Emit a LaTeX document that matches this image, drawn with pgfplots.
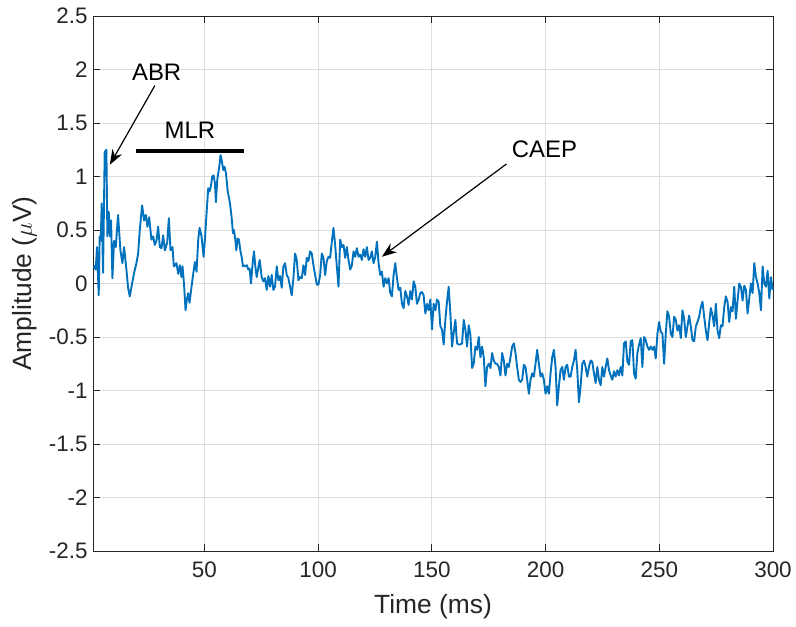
\documentclass[border=0pt]{standalone}
\usepackage{fontspec}
\setmainfont{Liberation Sans}
\usepackage{pgfplots}
\pgfplotsset{compat=1.18}
\usetikzlibrary{arrows.meta}
\definecolor{mblue}{HTML}{0072BD}
\definecolor{axgray}{HTML}{262626}
\definecolor{gridgray}{HTML}{DEDEDE}
\begin{document}
\begin{tikzpicture}
\begin{axis}[
  scale only axis,
  width=680bp, height=535bp,
  xmin=1, xmax=300, ymin=-2.5, ymax=2.5,
  xtick={50,100,150,200,250,300},
  ytick={-2.5,-2,-1.5,-1,-0.5,0,0.5,1,1.5,2,2.5},
  /pgf/number format/assume math mode=true,
  tick label style={font=\fontsize{22.5}{24}\selectfont, text=axgray},
  xticklabel style={yshift=-7bp},
  yticklabel style={xshift=-2bp},
  label style={font=\fontsize{26.5}{28}\selectfont, text=axgray},
  xlabel={Time (ms)},
  ylabel={Amplitude ($\mu$V)},
  xlabel style={at={(axis description cs:0.5,-0.1047)}, anchor=center},
  ylabel style={at={(axis description cs:-0.1,0.5)}, anchor=center},
  axis line style={axgray, line width=0.9bp},
  tick style={axgray, line width=0.8bp},
  tick align=inside,
  major tick length=7bp,
  xtick pos=both, ytick pos=both,
  grid=major,
  major grid style={gridgray, line width=0.8bp},
  clip=false,
  every axis plot/.append style={line join=round},
]
\addplot[mblue, line width=1.9bp, mark=none] coordinates {
(1.31,0.17) (2.19,0.13) (2.78,0.34) (3.51,-0.11) (3.95,0.44) (4.39,0.40) (4.83,0.75) (5.42,0.10)
(6.15,1.23) (6.89,1.25) (7.33,0.44) (7.92,0.67) (8.50,0.44) (8.94,0.59) (9.53,0.05) (10.27,0.40)
(11.00,0.34) (12.03,0.64) (13.06,0.31) (13.94,0.19) (14.67,0.34) (15.70,0.13) (16.43,-0.04) (17.17,-0.12)
(18.19,0.00) (19.08,0.10) (20.10,0.19) (20.84,0.28) (21.57,0.50) (22.60,0.73) (23.48,0.59) (24.21,0.64)
(24.95,0.53) (25.68,0.62) (26.71,0.41) (27.45,0.44) (28.18,0.36) (28.91,0.40) (29.65,0.53) (30.38,0.34)
(31.12,0.33) (31.85,0.45) (32.59,0.31) (33.61,0.38) (34.35,0.61) (35.08,0.31) (35.96,0.34) (36.55,0.16)
(36.99,0.17) (37.72,0.19) (38.46,0.09) (39.19,0.17) (39.93,0.06) (40.37,0.16) (41.10,-0.03) (41.69,-0.25)
(42.28,-0.15) (42.86,-0.09) (43.45,-0.18) (44.33,-0.03) (45.07,0.09) (45.80,0.20) (46.53,0.11) (47.27,0.41)
(47.86,0.52) (48.74,0.44) (49.62,0.25) (50.21,0.41) (50.94,0.66) (51.67,0.89) (52.26,0.86) (52.85,0.91)
(53.43,1.00) (54.02,1.01) (54.61,0.94) (55.05,0.76) (55.64,0.97) (56.52,1.09) (57.11,1.20) (57.69,1.14)
(58.28,1.06) (58.87,1.09) (59.46,1.03) (60.19,0.87) (61.22,0.75) (61.95,0.62) (62.54,0.47) (62.98,0.50)
(63.57,0.41) (64.01,0.31) (64.60,0.42) (65.18,0.41) (65.77,0.31) (66.36,0.25) (66.95,0.16) (67.53,0.17)
(68.12,0.16) (68.71,0.17) (69.29,0.13) (69.88,0.14) (70.47,0.00) (71.20,0.19) (71.79,0.30) (72.38,0.16)
(72.97,0.06) (73.55,0.13) (74.29,0.22)
(75.17,0.06) (75.91,0.02) (76.64,0.05) (77.38,-0.06) (78.11,0.07) (78.85,-0.03) (79.58,0.08) (80.31,-0.06)
(81.05,-0.03) (81.78,0.16) (82.52,0.03) (83.25,0.07) (83.98,-0.04) (84.72,0.16) (85.45,0.19) (86.19,0.08)
(86.92,0.05) (87.66,-0.03) (88.39,-0.11) (89.12,0.05) (89.86,0.28) (90.59,0.22) (91.33,0.03) (92.06,0.06)
(92.80,0.05) (93.53,0.17) (94.26,0.08) (95.00,0.24) (95.73,0.21) (96.47,0.30) (97.20,0.28) (97.93,0.17)
(98.67,0.08) (99.40,-0.01) (100.14,-0.01) (100.87,0.08) (101.61,0.28) (102.34,0.24) (103.07,0.08) (103.81,0.21)
(104.54,0.25) (105.28,0.24) (106.01,0.39) (106.74,0.52) (107.48,0.36) (108.21,0.16) (108.95,-0.03) (109.68,0.41)
(110.42,0.34) (111.15,0.36) (111.88,0.24) (112.62,0.34) (113.35,0.22) (114.09,0.13) (114.82,0.17) (115.56,0.30)
(116.29,0.25) (117.02,0.33) (117.76,0.25) (118.49,0.27) (119.23,0.22) (119.96,0.32) (120.70,0.25) (121.43,0.34)
(122.16,0.22) (122.90,0.24) (123.63,0.30) (124.37,0.19) (125.10,0.25) (125.84,0.39) (126.57,0.19) (127.30,0.08)
(128.04,0.11) (128.77,-0.03) (129.51,0.05) (130.24,0.00) (130.97,0.05) (131.71,-0.09) (132.44,-0.12) (133.18,0.08)
(133.91,0.19) (134.65,0.05) (135.38,-0.06) (136.11,-0.04) (136.85,-0.19) (137.58,-0.23) (138.32,-0.07) (139.05,-0.12)
(139.78,-0.20) (140.52,-0.07) (141.25,-0.15) (141.99,0.02) (142.72,-0.03) (143.45,-0.19) (144.19,-0.15)
(144.92,-0.09) (145.65,-0.08) (146.39,-0.11) (147.12,-0.28) (147.86,-0.19) (148.59,-0.25) (149.33,-0.15) (150.06,-0.43)
(150.79,-0.19) (151.53,-0.25) (152.26,-0.15) (153.00,-0.17) (153.73,-0.40) (154.46,-0.43) (155.20,-0.57) (155.93,-0.34)
(156.67,-0.17) (157.40,-0.03) (158.14,-0.28) (158.87,-0.59) (159.60,-0.46) (160.34,-0.34) (161.07,-0.56) (161.81,-0.57)
(162.54,-0.57) (163.28,-0.56) (164.01,-0.34) (164.74,-0.43) (165.48,-0.59) (166.21,-0.39) (166.95,-0.48) (167.68,-0.79)
(168.41,-0.75) (169.15,-0.59) (169.88,-0.62) (170.62,-0.50) (171.35,-0.69) (172.09,-0.59) (172.82,-0.69) (173.55,-0.96)
(174.29,-0.78) (175.02,-0.75) (175.76,-0.79) (176.49,-0.65) (177.22,-0.72) (177.96,-0.75) (178.69,-0.75) (179.43,-0.78)
(180.16,-0.86) (180.90,-0.65) (181.63,-0.72) (182.36,-0.86) (183.10,-0.75) (183.83,-0.78) (184.57,-0.69) (185.30,-0.59)
(186.04,-0.56) (186.77,-0.65) (187.50,-0.78) (188.24,-0.90) (188.97,-0.92) (189.71,-0.90) (190.44,-0.76) (191.17,-0.78)
(191.91,-0.90) (192.64,-1.03) (193.38,-0.90) (194.11,-0.84) (194.85,-0.87) (195.58,-0.75) (196.31,-0.62) (197.05,-0.75)
(197.78,-0.87) (198.52,-0.84) (199.25,-0.90) (199.99,-1.03) (200.72,-0.96) (201.45,-1.03) (202.19,-0.84) (202.92,-0.69)
(203.66,-0.62) (204.39,-0.78) (205.12,-1.14) (205.86,-0.96) (206.59,-0.81) (207.33,-0.78) (208.06,-0.90) (208.80,-0.78)
(209.53,-0.76) (210.26,-0.87) (211.00,-0.87) (211.73,-0.78) (212.47,-0.72) (213.20,-0.62) (213.94,-0.81) (214.67,-1.11)
(215.40,-0.96) (216.14,-0.75) (216.87,-0.72) (217.61,-0.78) (218.34,-0.87) (219.08,-0.78) (219.81,-0.72) (220.54,-0.73)
(221.28,-0.84) (222.01,-0.93) (222.75,-0.78) (223.48,-0.90)
(224.22,-0.95) (224.95,-0.78) (225.68,-0.87) (226.42,-0.78) (227.15,-0.70) (227.89,-0.81) (228.62,-0.86) (229.35,-0.90)
(230.09,-0.82) (230.82,-0.87) (231.56,-0.81) (232.29,-0.86) (233.03,-0.78) (233.76,-0.86) (234.49,-0.56) (235.23,-0.54)
(235.96,-0.73) (236.70,-0.76) (237.43,-0.54) (238.17,-0.53) (238.90,-0.84) (239.63,-0.89) (240.37,-0.65) (241.10,-0.57)
(241.84,-0.51) (242.57,-0.78) (243.30,-0.50) (244.04,-0.53) (244.77,-0.59) (245.51,-0.62) (246.24,-0.59) (246.98,-0.62)
(247.71,-0.59) (248.44,-0.70) (249.18,-0.47) (249.91,-0.36) (250.65,-0.45) (251.38,-0.47) (252.11,-0.75) (252.85,-0.47)
(253.58,-0.26) (254.32,-0.31) (255.05,-0.47) (255.79,-0.50) (256.52,-0.31) (257.25,-0.34) (257.99,-0.44) (258.72,-0.39)
(259.46,-0.51) (260.19,-0.25) (260.93,-0.33) (261.66,-0.50) (262.39,-0.40) (263.13,-0.30) (263.86,-0.40) (264.60,-0.53)
(265.33,-0.54) (266.06,-0.40) (266.80,-0.36) (267.53,-0.31) (268.27,-0.22) (269.00,-0.17) (269.74,-0.31) (270.47,-0.44)
(271.20,-0.53) (271.94,-0.37) (272.67,-0.23) (273.41,-0.30) (274.14,-0.40) (274.88,-0.19) (275.61,-0.44) (276.34,-0.51)
(277.08,-0.39) (277.81,-0.40) (278.55,-0.22) (279.28,-0.12) (280.01,-0.17) (280.75,-0.36) (281.48,-0.22) (282.22,-0.26)
(282.95,-0.03) (283.69,-0.33) (284.42,-0.16) (285.15,0.00) (285.89,-0.03) (286.62,-0.16) (287.36,-0.02) (288.09,-0.06)
(288.83,-0.28) (289.56,-0.14) (290.29,0.00) (291.03,-0.09) (291.76,0.19) (292.50,0.06) (293.23,0.00) (293.97,-0.09)
(294.70,-0.25) (295.43,0.16) (296.17,0.00) (296.90,-0.03) (297.64,0.12) (298.37,-0.14) (299.11,0.06) (299.84,-0.06)
};
\node[font=\fontsize{24}{26}\selectfont, text=black] at (axis cs:29.0,1.97) {ABR};
\draw[black, line width=1.2bp, -{Stealth[length=15bp,width=11bp]}] (axis cs:28.2,1.85) -- (axis cs:8.4,1.11);
\node[font=\fontsize{24}{26}\selectfont, text=black] at (axis cs:43.6,1.43) {MLR};
\draw[black, line width=3.5bp] (axis cs:19.8,1.24) -- (axis cs:67.4,1.24);
\node[font=\fontsize{24}{26}\selectfont, text=black] at (axis cs:199.5,1.25) {CAEP};
\draw[black, line width=1.2bp, -{Stealth[length=15bp,width=11bp]}] (axis cs:182.8,1.117) -- (axis cs:128.0,0.25);
\coordinate (sw) at (rel axis cs:0,0);
\coordinate (ne) at (rel axis cs:1,1);
\end{axis}
\pgfresetboundingbox
\path[use as bounding box] ([shift={(-93bp,-76bp)}]sw) rectangle ([shift={(23bp,16bp)}]ne);
\end{tikzpicture}
\end{document}
